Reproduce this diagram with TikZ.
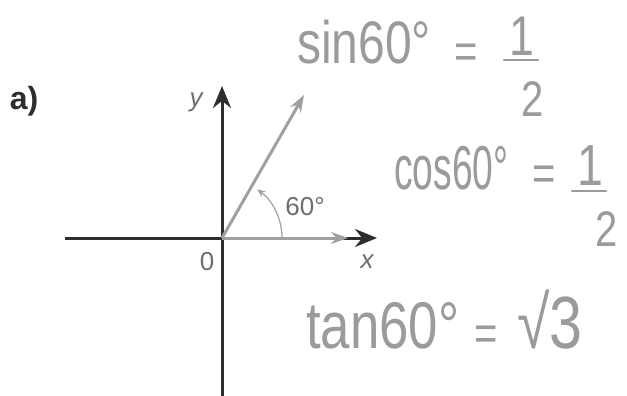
\documentclass[tikz,border=0pt]{standalone}
\usepackage{fontspec}
\setmainfont{Liberation Sans}
\usetikzlibrary{arrows.meta}
\definecolor{axisc}{RGB}{45,45,45}
\definecolor{vecc}{RGB}{160,160,160}
\definecolor{handc}{RGB}{155,155,155}
\definecolor{labc}{RGB}{110,110,110}
\tikzset{
  axisline/.style={draw=axisc, line width=3pt, -{Stealth[length=22pt,width=18pt]}},
  vecline/.style={draw=vecc, line width=3pt, -{Stealth[length=17pt,width=12pt]}},
  arcline/.style={draw=vecc, line width=1.2pt, -{Stealth[length=8pt,width=7pt]}},
  axlab/.style={text=labc, font=\fontsize{26}{28}\selectfont, inner sep=0pt},
  hand/.style={text=handc, inner sep=0pt, transform shape},
  fracbar/.style={draw=handc, line width=2.4pt, line cap=round}
}
\begin{document}
\begin{tikzpicture}[x=1pt,y=-1pt]
\useasboundingbox (0,0) rectangle (627,396);
\coordinate (O) at (222,238);
\coordinate (xl) at (65,238);
\coordinate (xr) at (377,238);
\coordinate (yb) at (222,396);
\coordinate (yt) at (222,86);
\coordinate (v) at (304,95);
\coordinate (vx) at (348,238);
% axes
\draw[axisline] (xl) -- (xr);
\draw[axisline] (yb) -- (yt);
% vectors
\draw[vecline] (O) -- (vx);
\draw[vecline] (O) -- (v);
\draw[arcline] (282,238) arc[start angle=0, end angle=-54, radius=60];
% labels
\node[font=\bfseries\fontsize{32}{34}\selectfont, text=axisc, inner sep=0pt] (a) at (24,101) {a)};
\node[axlab] (ylab) at (196,102) {\itshape y};
\node[axlab] (olab) at (207,262) {0};
\node[axlab] (xlab) at (367,262) {\itshape x};
\node[axlab] (ang) at (305,207) {60°};
% handwritten formulas
\node[hand, font=\fontsize{60}{62}\selectfont, anchor=west, xscale=0.8] (sinT) at (297,42) {sin60°};
\node[hand, font=\fontsize{50}{52}\selectfont, xscale=0.8] (sinEq) at (466,56) {=};
\node[hand, font=\fontsize{56}{58}\selectfont, xscale=0.8] (sinN) at (522,36) {1};
\draw[fracbar] (504,60) -- (538,60);
\node[hand, font=\fontsize{50}{52}\selectfont, xscale=0.8] (sinD) at (533,99) {2};
\node[hand, font=\fontsize{62}{64}\selectfont, anchor=west, xscale=0.6] (cosT) at (394,168) {cos60°};
\node[hand, font=\fontsize{50}{52}\selectfont, xscale=0.8] (cosEq) at (544,178) {=};
\node[hand, font=\fontsize{58}{60}\selectfont, xscale=0.8] (cosN) at (590,166) {1};
\draw[fracbar] (572,191) -- (606,191);
\node[hand, font=\fontsize{50}{52}\selectfont, xscale=0.8] (cosD) at (607,229) {2};
\node[hand, font=\fontsize{66}{68}\selectfont, anchor=west, xscale=0.8] (tanT) at (306,326) {tan60°};
\node[hand, font=\fontsize{50}{52}\selectfont, xscale=0.8] (tanEq) at (486,338) {=};
\node[hand, font=\fontsize{74}{76}\selectfont, xscale=0.8] (tanR) at (550,320) {√3};
\end{tikzpicture}
\end{document}
